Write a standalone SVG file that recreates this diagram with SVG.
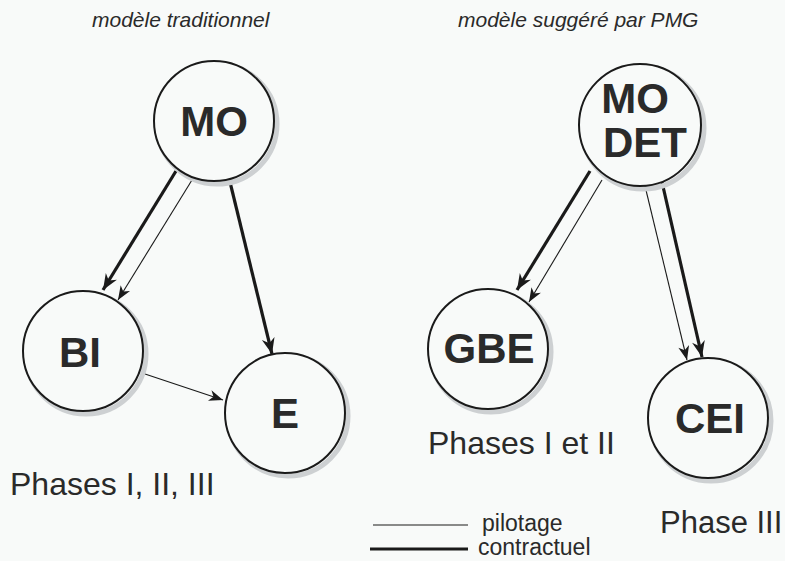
<svg xmlns="http://www.w3.org/2000/svg" width="785" height="561" viewBox="0 0 785 561">
<defs>
<style>
.bg{fill:#f8faf9}
.node{fill:#f8faf9;stroke:#1a1a1a;stroke-width:2}
.shadow{fill:none;stroke:#cdd0d2;stroke-width:5}
.lbl{font-family:"Liberation Sans",Arial,sans-serif;font-weight:bold;font-size:42px;fill:#2a2a2a;text-anchor:middle}
.title{font-family:"Liberation Sans",Arial,sans-serif;font-style:italic;font-size:21px;fill:#2a2a2a}
.phase{font-family:"Liberation Sans",Arial,sans-serif;font-size:32px;fill:#2a2a2a}
.leg{font-family:"Liberation Sans",Arial,sans-serif;font-size:23px;fill:#2a2a2a}
.thick{stroke:#1a1a1a;stroke-width:3.2;fill:none}
.thin{stroke:#1a1a1a;stroke-width:1.1;fill:none}
</style>
<marker id="ahThick" markerUnits="userSpaceOnUse" markerWidth="20" markerHeight="16" viewBox="-17 -8 19 16" refX="0" refY="0" orient="auto">
<path d="M0,0 L-16,-6.5 L-11,0 L-16,6.5 Z" fill="#1a1a1a"/>
</marker>
<marker id="ahThin" markerUnits="userSpaceOnUse" markerWidth="18" markerHeight="14" viewBox="-15 -7 17 14" refX="0" refY="0" orient="auto">
<path d="M0,0 L-14,-5.5 L-10,0 L-14,5.5 Z" fill="#1a1a1a"/>
</marker>
</defs>
<rect class="bg" x="0" y="0" width="785" height="561"/>

<text class="title" x="92" y="27">modèle traditionnel</text>
<text class="title" x="458" y="27">modèle suggéré par PMG</text>

<g id="connectors">
<line class="thick" x1="176" y1="171" x2="103" y2="290" marker-end="url(#ahThick)"/>
<line class="thin" x1="192" y1="180" x2="118" y2="300" marker-end="url(#ahThin)"/>
<line class="thick" x1="230" y1="182" x2="272" y2="354" marker-end="url(#ahThick)"/>
<line class="thin" x1="142" y1="373" x2="223" y2="400" marker-end="url(#ahThin)"/>
<line class="thick" x1="590" y1="171" x2="517" y2="290" marker-end="url(#ahThick)"/>
<line class="thin" x1="602" y1="180" x2="529" y2="302" marker-end="url(#ahThin)"/>
<line class="thin" x1="645" y1="186" x2="687" y2="360" marker-end="url(#ahThin)"/>
<line class="thick" x1="662" y1="182" x2="702" y2="357" marker-end="url(#ahThick)"/>
</g>

<g id="node-MO">
<circle class="shadow" cx="217" cy="124" r="60"/>
<circle class="node" cx="214" cy="121" r="60"/>
<text class="lbl" x="214" y="136">MO</text>
</g>
<g id="node-BI">
<circle class="shadow" cx="86" cy="354" r="60"/>
<circle class="node" cx="83" cy="351" r="60"/>
<text class="lbl" x="80" y="367">BI</text>
</g>
<g id="node-E">
<circle class="shadow" cx="288" cy="416" r="60"/>
<circle class="node" cx="285" cy="413" r="60"/>
<text class="lbl" x="285" y="428">E</text>
</g>
<g id="node-MODET">
<circle class="shadow" cx="643" cy="128" r="61"/>
<circle class="node" cx="640" cy="125" r="61"/>
<text class="lbl" x="635" y="113">MO</text>
<text class="lbl" x="645" y="157">DET</text>
</g>
<g id="node-GBE">
<circle class="shadow" cx="491" cy="352" r="60"/>
<circle class="node" cx="488" cy="349" r="60"/>
<text class="lbl" x="489" y="363">GBE</text>
</g>
<g id="node-CEI">
<circle class="shadow" cx="711" cy="421" r="60"/>
<circle class="node" cx="708" cy="418" r="60"/>
<text class="lbl" x="710" y="433">CEI</text>
</g>

<text class="phase" x="10" y="495">Phases I, II, III</text>
<text class="phase" x="428" y="454">Phases I et II</text>
<text class="phase" x="660" y="533" style="font-size:31px">Phase III</text>

<g id="legend">
<line class="thin" x1="373" y1="525" x2="468" y2="525"/>
<text class="leg" x="482" y="531">pilotage</text>
<line class="thick" x1="370" y1="549" x2="468" y2="549"/>
<text class="leg" x="478" y="555">contractuel</text>
</g>
</svg>
